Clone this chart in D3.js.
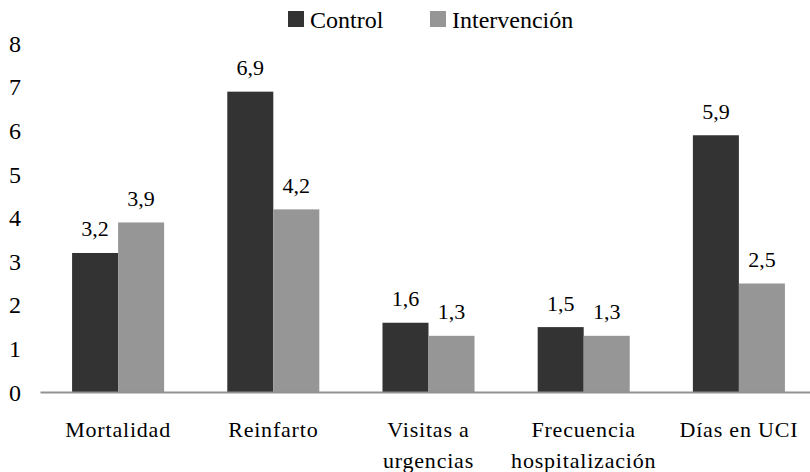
<!DOCTYPE html>
<html>
<head>
<meta charset="utf-8">
<script src="https://cdn.jsdelivr.net/npm/d3@7"></script>
<style>
  html, body { margin: 0; padding: 0; background: #fff; }
  #chart text, #chart tspan { font-family: "Liberation Serif", "Times New Roman", serif; }
</style>
</head>
<body>
<svg id="chart" width="810" height="472"></svg>
<script>
// Outcome categories (each label may wrap over two lines)
const categories = [
  ["Mortalidad"],
  ["Reinfarto"],
  ["Visitas a", "urgencias"],
  ["Frecuencia", "hospitalización"],
  ["Días en UCI"]
];
const seriesNames = ["Control", "Intervención"];
const controlValues = [3.2, 6.9, 1.6, 1.5, 5.9];
const interventionValues = [3.9, 4.2, 1.3, 1.3, 2.5];
const yTicks = [0, 1, 2, 3, 4, 5, 6, 7, 8];
const seriesColors = ["#333333", "#969696"];

const serif = "'Liberation Serif', 'Times New Roman', serif";
const svg = d3.select("#chart").attr("font-family", serif);
const x0Left = 40.5, x0Right = 816.5;
const yBottom = 392.5, yTop = 43.7;

const keys = categories.map((c, i) => i);
const x = d3.scaleBand().domain(keys).range([x0Left, x0Right])
  .paddingInner(0.407).paddingOuter(0.2035);
const xSub = d3.scaleBand().domain([0, 1]).range([0, x.bandwidth()]);
const y = d3.scaleLinear().domain([0, 8]).range([yBottom, yTop]);

const rows = keys.map(i => [controlValues[i], interventionValues[i]]);
const fmt = v => d3.format(".1f")(v).replace(".", ",");

// Bars
const groups = svg.append("g").selectAll("g").data(rows).join("g")
  .attr("transform", (d, i) => `translate(${x(i)},0)`);
groups.selectAll("rect").data(d => d.map((v, s) => ({ v, s }))).join("rect")
  .attr("x", d => xSub(d.s))
  .attr("width", xSub.bandwidth())
  .attr("y", d => y(d.v))
  .attr("height", d => y(0) - y(d.v))
  .attr("fill", d => seriesColors[d.s]);

// Value labels
groups.selectAll("text").data(d => d.map((v, s) => ({ v, s }))).join("text")
  .attr("x", d => xSub(d.s) + xSub.bandwidth() / 2)
  .attr("y", d => y(d.v) - 16.5)
  .attr("text-anchor", "middle")
  .attr("font-size", 22)
  .text(d => fmt(d.v));

// Baseline
svg.append("line")
  .attr("x1", x0Left).attr("x2", 810)
  .attr("y1", y(0)).attr("y2", y(0))
  .attr("stroke", "#929292").attr("stroke-width", 2);

// Y axis labels (no axis line or ticks)
const yAxis = d3.axisLeft(y).tickValues(yTicks).tickSize(0).tickPadding(0)
  .tickFormat(d3.format("d"));
const yg = svg.append("g").attr("transform", "translate(21,0)").call(yAxis)
  .attr("font-family", serif);
yg.select(".domain").remove();
yg.selectAll("text").attr("font-size", 24).attr("fill", "#000");

// Category labels
const catG = svg.append("g").selectAll("text").data(categories).join("text")
  .attr("x", (d, i) => x(i) + x.bandwidth() / 2)
  .attr("y", 437)
  .attr("text-anchor", "middle")
  .attr("font-size", 22)
  .attr("letter-spacing", 0.8);
catG.selectAll("tspan").data(d => d).join("tspan")
  .attr("x", function () { return d3.select(this.parentNode).attr("x"); })
  .attr("dy", (d, j) => j === 0 ? 0 : 31)
  .text(d => d);

// Legend
const legend = svg.append("g");
const legendX = [288, 430];
seriesNames.forEach((name, s) => {
  legend.append("rect").attr("x", legendX[s]).attr("y", 11)
    .attr("width", 16).attr("height", 16).attr("fill", seriesColors[s]);
  legend.append("text").attr("x", legendX[s] + 22).attr("y", 28)
    .attr("font-size", 24).text(name);
});
</script>
</body>
</html>
